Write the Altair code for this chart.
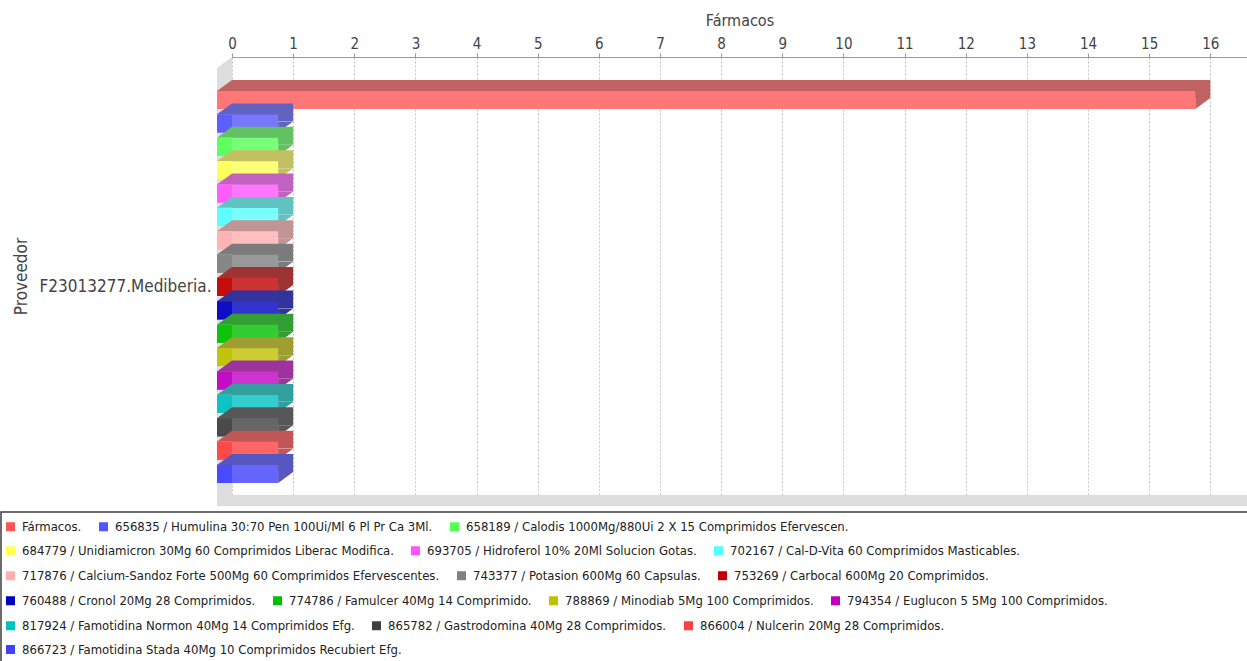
import altair as alt
import pandas as pd

# ---- data -------------------------------------------------------------
provider = "F23013277.Mediberia."

series = [
    "Fármacos.",
    "656835 / Humulina 30:70 Pen 100Ui/Ml 6 Pl Pr Ca 3Ml.",
    "658189 / Calodis 1000Mg/880Ui 2 X 15 Comprimidos Efervescen.",
    "684779 / Unidiamicron 30Mg 60 Comprimidos Liberac Modifica.",
    "693705 / Hidroferol 10% 20Ml Solucion Gotas.",
    "702167 / Cal-D-Vita 60 Comprimidos Masticables.",
    "717876 / Calcium-Sandoz Forte 500Mg 60 Comprimidos Efervescentes.",
    "743377 / Potasion 600Mg 60 Capsulas.",
    "753269 / Carbocal 600Mg 20 Comprimidos.",
    "760488 / Cronol 20Mg 28 Comprimidos.",
    "774786 / Famulcer 40Mg 14 Comprimido.",
    "788869 / Minodiab 5Mg 100 Comprimidos.",
    "794354 / Euglucon 5 5Mg 100 Comprimidos.",
    "817924 / Famotidina Normon 40Mg 14 Comprimidos Efg.",
    "865782 / Gastrodomina 40Mg 28 Comprimidos.",
    "866004 / Nulcerin 20Mg 28 Comprimidos.",
    "866723 / Famotidina Stada 40Mg 10 Comprimidos Recubiert Efg.",
]

values = [16, 1, 1, 1, 1, 1, 1, 1, 1, 1, 1, 1, 1, 1, 1, 1, 1]

colors = [
    "#ff5555", "#5555ff", "#55ff55", "#ffff55", "#ff55ff", "#55ffff",
    "#ffafaf", "#808080", "#c00000", "#0000c0", "#00c000", "#c0c000",
    "#c000c0", "#00c0c0", "#404040", "#ff4040", "#4040ff",
]

# legend entries, line by line
legend_rows = [[0, 1, 2], [3, 4, 5], [6, 7, 8], [9, 10, 11, 12], [13, 14, 15], [16]]
legend_row_y = [463, 487, 512, 537, 562, 586]

ticks = list(range(17))
x_max = 16.6

# ---- styling helpers --------------------------------------------------
FONT = "DejaVu Sans Condensed, Liberation Sans Narrow, DejaVu Sans, sans-serif"
DX, DY = 15, 11          # depth of the 3-D effect in pixels
BAND = 18                # bar thickness in pixels
TRI_TOP = "M-1,0.733L1,-0.733L1,0.733Z"
TRI_SIDE = "M-1,-0.733L1,-0.733L-1,0.733Z"
WALL = "#dddddd"


def _rgb(h):
    h = h.lstrip("#")
    return [int(h[i:i + 2], 16) for i in (0, 2, 4)]


def _hex(rgb):
    return "#" + "".join(f"{max(0, min(255, round(v))):02x}" for v in rgb)


def tint(h, alpha=0.8):
    return _hex([alpha * v + (1 - alpha) * 255 for v in _rgb(h)])


def shade(h, alpha=0.8):
    return tint(_hex([v * 0.7 for v in _rgb(h)]), alpha)


df = pd.DataFrame({"provider": provider, "series": series, "value": values})
wall_df = pd.DataFrame({"provider": [provider]})

# ---- scales / axes ----------------------------------------------------
x_scale = alt.Scale(domain=[0, x_max], nice=False, zero=True)
x_axis = alt.Axis(
    orient="top", values=ticks, format="d", grid=True, gridDash=[2, 2],
    gridColor="#c4c4c4", labelFlush=False, labelOverlap=False,
    labelFont=FONT, labelFontSize=15, labelColor="#444444",
    tickColor="#9a9a9a", tickSize=4, domainColor="#9a9a9a", labelPadding=2,
    titleFont=FONT, titleFontSize=16, titleFontWeight="normal",
    titleColor="#444444", titlePadding=8,
)
prov_scale = alt.Scale(domain=[provider], paddingInner=0, paddingOuter=0)
prov_axis = alt.Axis(
    orient="left", domain=False, ticks=False, grid=False, tickSize=0,
    labelPadding=21, labelOffset=DY, labelFont=FONT, labelFontSize=17,
    labelColor="#444444", labelLimit=400, titleFont=FONT, titleFontSize=17,
    titleFontWeight="normal", titleColor="#444444", titlePadding=9,
)
series_scale = alt.Scale(domain=series, paddingInner=0.23, paddingOuter=0.984)


def X(field=None, datum=None):
    if datum is not None:
        return alt.X(datum=datum, type="quantitative", scale=x_scale,
                     axis=x_axis, title="Fármacos")
    return alt.X(field, type="quantitative", scale=x_scale, axis=x_axis,
                 title="Fármacos")


def YP(**kw):
    return alt.Y("provider:N", scale=prov_scale, axis=prov_axis,
                 title="Proveedor", **kw)


YS = alt.Y("series:N", scale=series_scale, axis=None)

plot_bottom = alt.ExprRef(expr="height")
floor_front = alt.ExprRef(expr=f"height + {DY}")

# ---- walls: left wall and floor of the 3-D box ------------------------
walls = alt.layer(
    alt.Chart(wall_df).mark_bar(color=WALL, xOffset=-DX, yOffset=DY)
    .encode(x=X(datum=0), x2=alt.X2(datum=0), y=YP()),
    alt.Chart(wall_df).mark_point(
        shape=TRI_TOP, size=DX * DX, filled=True, opacity=1, color=WALL,
        strokeWidth=0, xOffset=-DX / 2, yOffset=DY / 2,
    ).encode(x=X(datum=0), y=YP(bandPosition=0)),
    alt.Chart(wall_df).mark_bar(color=WALL, xOffset=-DX)
    .encode(x=X(datum=0), x2=alt.X2(datum=x_max),
            y=alt.value(plot_bottom), y2=alt.value(floor_front)),
)

# ---- bars -------------------------------------------------------------
bar_layers = []

# one legend per legend line (hidden under the bar fronts)
for idx, ly in zip(legend_rows, legend_row_y):
    names = [series[i] for i in idx]
    cols = [colors[i] for i in idx]
    bar_layers.append(
        alt.Chart(df)
        .transform_filter(alt.FieldOneOfPredicate(field="series", oneOf=names))
        .mark_bar(xOffset=-DX, yOffset=DY)
        .encode(
            x=X(datum=0), x2=alt.X2(datum=0), y=YS,
            color=alt.Color(
                "series:N",
                scale=alt.Scale(domain=names, range=cols),
                legend=alt.Legend(
                    title=None, orient="none", legendX=-228, legendY=ly,
                    direction="horizontal", symbolType="square", symbolSize=81,
                    symbolStrokeWidth=0, symbolOpacity=1, labelFont=FONT,
                    labelFontSize=13, labelColor="#222222", labelLimit=2000,
                    columnPadding=15, labelOffset=5, padding=0,
                ),
            ),
        )
    )

# 3-D bars, drawn series by series so lower bars overlap the ones above
for i, name in enumerate(series):
    c = colors[i]
    sub = alt.Chart(df).transform_filter(
        alt.FieldEqualPredicate(field="series", equal=name)
    )
    # back face (shows as the top and right-hand faces)
    bar_layers.append(
        sub.mark_bar(color=shade(c))
        .encode(x=X("value"), x2=alt.X2(datum=0), y=YS)
    )
    bar_layers.append(
        sub.mark_point(
            shape=TRI_TOP, size=DX * DX, filled=True, opacity=1, color=shade(c),
            strokeWidth=0, xOffset=-DX / 2, yOffset=-BAND / 2 + DY / 2,
        ).encode(x=X(datum=0), y=YS)
    )
    bar_layers.append(
        sub.mark_point(
            shape=TRI_SIDE, size=DX * DX, filled=True, opacity=1, color=shade(c),
            strokeWidth=0, xOffset=-DX / 2, yOffset=BAND / 2 + DY / 2,
        ).encode(x=X("value"), y=YS)
    )
    # front face
    bar_layers.append(
        sub.mark_bar(color=tint(c), xOffset=-DX, x2Offset=-DX, yOffset=DY)
        .encode(x=X("value"), x2=alt.X2(datum=0), y=YS)
    )
    if i > 0:
        bar_layers.append(
            sub.mark_bar(color=tint(c, 0.95), xOffset=-DX, yOffset=DY)
            .encode(x=X(datum=0), x2=alt.X2(datum=0), y=YS)
        )

# frame around the legend block
bar_layers.append(
    alt.Chart(wall_df).mark_rect(filled=False, color="#3c3c3c", strokeWidth=1.5)
    .encode(x=alt.value(-231), x2=alt.value(1020),
            y=alt.value(alt.ExprRef(expr="height + 17")),
            y2=alt.value(alt.ExprRef(expr="height + 190")))
)

bars = alt.layer(*bar_layers).resolve_scale(color="independent")

chart = (
    alt.layer(walls, bars)
    .resolve_scale(y="independent", color="independent")
    .properties(
        width=1015, height=438,
        autosize=alt.AutoSizeParams(type="none"),
        padding={"left": 232, "top": 57, "right": 0, "bottom": 166},
        background="#ffffff",
    )
    .configure_view(strokeOpacity=0)
)

chart.save("out.html", embed_options={"renderer": "svg", "actions": False})
